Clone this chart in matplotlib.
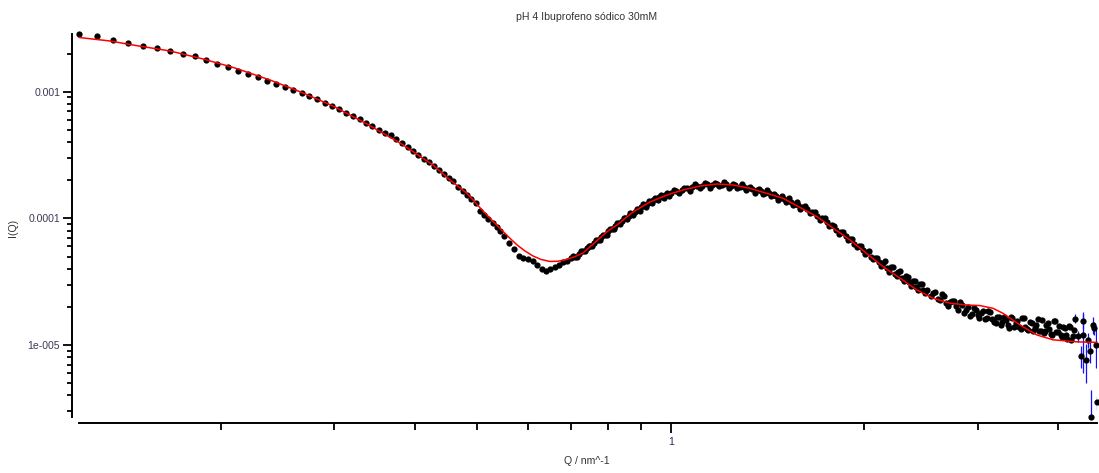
import matplotlib
matplotlib.use("Agg")
import matplotlib.pyplot as plt
import numpy as np
from matplotlib.ticker import LogLocator, NullFormatter, FixedLocator, FixedFormatter

# ---------------- data ----------------
q_low = [0.1203, 0.1280, 0.1357, 0.1434, 0.1511, 0.1588, 0.1665, 0.1742, 0.1819, 0.1896,
         0.1973, 0.2050, 0.2127, 0.2204, 0.2281, 0.2358, 0.2435, 0.2512, 0.2589, 0.2666,
         0.2743, 0.2820, 0.2897, 0.2974, 0.3051, 0.3128, 0.3205, 0.3282, 0.3359, 0.3436,
         0.3513, 0.3590, 0.3667, 0.3744, 0.3821, 0.3898, 0.3975, 0.4052, 0.4129, 0.4206,
         0.4283, 0.4360, 0.4437, 0.4514, 0.4591, 0.4668, 0.4745, 0.4822, 0.4899, 0.4976,
         0.5053, 0.5130, 0.5207, 0.5284, 0.5361]
i_low = [2.838e-3, 2.767e-3, 2.573e-3, 2.436e-3, 2.307e-3, 2.213e-3, 2.096e-3, 1.995e-3, 1.903e-3, 1.769e-3,
         1.654e-3, 1.558e-3, 1.465e-3, 1.379e-3, 1.299e-3, 1.208e-3, 1.150e-3, 1.083e-3, 1.026e-3, 9.80e-4,
         9.22e-4, 8.68e-4, 8.19e-4, 7.71e-4, 7.26e-4, 6.83e-4, 6.43e-4, 6.06e-4, 5.69e-4, 5.36e-4,
         4.99e-4, 4.75e-4, 4.53e-4, 4.21e-4, 3.92e-4, 3.68e-4, 3.42e-4, 3.18e-4, 2.96e-4, 2.79e-4,
         2.59e-4, 2.41e-4, 2.24e-4, 2.08e-4, 1.96e-4, 1.78e-4, 1.65e-4, 1.54e-4, 1.42e-4, 1.32e-4,
         1.15e-4, 1.07e-4, 9.84e-5, 9.15e-5, 8.51e-5]

q_dip = [0.543, 0.55, 0.56, 0.57, 0.58, 0.59, 0.60, 0.61, 0.62, 0.63, 0.64, 0.65, 0.66, 0.67,
         0.68, 0.69, 0.70, 0.71, 0.72, 0.73, 0.74, 0.75, 0.76, 0.77, 0.78, 0.79, 0.80, 0.81,
         0.82, 0.83, 0.84, 0.85, 0.86, 0.87, 0.88, 0.89, 0.90, 0.91, 0.92, 0.93, 0.94, 0.95,
         0.96, 0.97, 0.98, 0.99, 1.00]
i_dip = [7.96e-5, 7.26e-5, 6.45e-5, 5.73e-5, 5.05e-5, 4.83e-5, 4.74e-5, 4.57e-5, 4.25e-5, 3.95e-5,
         3.81e-5, 3.95e-5, 4.13e-5, 4.29e-5, 4.49e-5, 4.61e-5, 4.83e-5, 5.00e-5, 5.28e-5, 5.53e-5,
         5.79e-5, 6.06e-5, 6.39e-5, 6.69e-5, 7.07e-5, 7.46e-5, 7.88e-5, 8.25e-5, 8.71e-5, 9.12e-5,
         9.54e-5, 9.98e-5, 1.035e-4, 1.083e-4, 1.123e-4, 1.165e-4, 1.219e-4, 1.264e-4, 1.299e-4, 1.347e-4,
         1.384e-4, 1.422e-4, 1.462e-4, 1.489e-4, 1.516e-4, 1.544e-4, 1.573e-4]

q_dip2 = [0.705, 0.715, 0.725, 0.735, 0.745, 0.755, 0.765, 0.775, 0.785, 0.795,
          0.805, 0.815, 0.825, 0.835, 0.845, 0.855, 0.865, 0.875, 0.885, 0.895,
          0.905, 0.915, 0.925, 0.935, 0.945, 0.955, 0.965, 0.975, 0.985, 0.995]
i_dip2 = [5.05e-5, 5.00e-5, 5.55e-5, 5.51e-5, 6.09e-5, 6.05e-5, 6.72e-5, 6.69e-5, 7.46e-5, 7.46e-5,
          8.29e-5, 8.25e-5, 9.24e-5, 9.00e-5, 1.012e-4, 9.80e-5, 1.098e-4, 1.064e-4, 1.186e-4, 1.149e-4,
          1.287e-4, 1.235e-4, 1.372e-4, 1.316e-4, 1.455e-4, 1.391e-4, 1.530e-4, 1.448e-4, 1.587e-4, 1.502e-4]

q_peak = [1.02, 1.04, 1.06, 1.08, 1.10, 1.12, 1.14, 1.16, 1.18, 1.20, 1.22, 1.24, 1.26, 1.28, 1.30,
          1.32, 1.34, 1.36, 1.38, 1.40, 1.42, 1.44, 1.46, 1.48, 1.50, 1.52, 1.54, 1.56, 1.58, 1.60]
i_peak = [1.631e-4, 1.661e-4, 1.722e-4, 1.754e-4, 1.802e-4, 1.808e-4, 1.852e-4, 1.828e-4, 1.862e-4, 1.842e-4,
          1.852e-4, 1.808e-4, 1.818e-4, 1.776e-4, 1.769e-4, 1.722e-4, 1.713e-4, 1.661e-4, 1.646e-4, 1.593e-4,
          1.573e-4, 1.516e-4, 1.502e-4, 1.454e-4, 1.428e-4, 1.384e-4, 1.352e-4, 1.304e-4, 1.276e-4, 1.230e-4]

q_peak2 = [1.01, 1.03, 1.05, 1.07, 1.09, 1.11, 1.13, 1.15, 1.17, 1.19, 1.21, 1.23, 1.25, 1.27, 1.29,
           1.31, 1.33, 1.35, 1.37, 1.39, 1.41, 1.43, 1.45, 1.47, 1.49, 1.51, 1.53, 1.55, 1.57, 1.59]
i_peak2 = [1.661e-4, 1.587e-4, 1.722e-4, 1.646e-4, 1.877e-4, 1.741e-4, 1.898e-4, 1.742e-4, 1.913e-4, 1.786e-4,
           1.950e-4, 1.733e-4, 1.880e-4, 1.733e-4, 1.871e-4, 1.683e-4, 1.781e-4, 1.598e-4, 1.714e-4, 1.561e-4,
           1.672e-4, 1.489e-4, 1.565e-4, 1.400e-4, 1.494e-4, 1.356e-4, 1.445e-4, 1.281e-4, 1.338e-4, 1.187e-4]

q_decay = [1.63, 1.66, 1.69, 1.72, 1.75, 1.78, 1.81, 1.84, 1.87, 1.90, 1.93, 1.96, 1.99, 2.02, 2.05,
           2.08, 2.11, 2.14, 2.17, 2.20, 2.23, 2.26, 2.29, 2.32, 2.35, 2.38, 2.41, 2.44, 2.47, 2.50]
i_decay = [1.176e-4, 1.123e-4, 1.044e-4, 9.98e-5, 9.28e-5, 8.79e-5, 8.17e-5, 7.74e-5, 7.20e-5, 6.82e-5,
           6.30e-5, 6.00e-5, 5.63e-5, 5.38e-5, 5.00e-5, 4.83e-5, 4.49e-5, 4.45e-5, 4.06e-5, 4.10e-5,
           3.67e-5, 3.74e-5, 3.36e-5, 3.51e-5, 3.12e-5, 3.21e-5, 2.88e-5, 3.01e-5, 2.70e-5, 2.72e-5]

q_decay2 = [1.615, 1.645, 1.675, 1.705, 1.735, 1.765, 1.795, 1.825, 1.855, 1.885, 1.915, 1.945, 1.975, 2.005, 2.035,
            2.065, 2.095, 2.125, 2.155, 2.185, 2.215, 2.245, 2.275, 2.305, 2.335, 2.365, 2.395, 2.425, 2.455, 2.485]
i_decay2 = [1.247e-4, 1.108e-4, 1.123e-4, 9.67e-5, 1.016e-4, 8.71e-5, 8.78e-5, 7.53e-5, 7.74e-5, 6.76e-5,
            6.92e-5, 5.93e-5, 6.03e-5, 5.21e-5, 5.48e-5, 4.74e-5, 4.83e-5, 4.23e-5, 4.57e-5, 3.79e-5,
            4.17e-5, 3.50e-5, 3.81e-5, 3.19e-5, 3.43e-5, 2.90e-5, 3.21e-5, 2.74e-5, 3.06e-5, 2.57e-5]

q_tail = [2.54, 2.58, 2.62, 2.66, 2.70, 2.74, 2.78, 2.82, 2.86, 2.90, 2.94, 2.98, 3.02, 3.06, 3.10,
          3.14, 3.18, 3.22, 3.26, 3.30, 3.34, 3.38, 3.42, 3.46, 3.50, 3.54, 3.58, 3.62, 3.66, 3.70,
          3.74, 3.78, 3.82, 3.86, 3.90, 3.94, 3.98, 4.02, 4.06, 4.10, 4.14, 4.18, 4.22, 4.26, 4.30,
          4.34, 4.37, 4.38, 4.42, 4.46, 4.48, 4.50, 4.54, 4.56, 4.58, 4.60]
i_tail = [2.42e-5, 2.60e-5, 2.27e-5, 2.46e-5, 2.05e-5, 2.23e-5, 2.04e-5, 2.17e-5, 1.79e-5, 2.00e-5,
          1.76e-5, 1.88e-5, 1.64e-5, 1.86e-5, 1.64e-5, 1.83e-5, 1.52e-5, 1.67e-5, 1.44e-5, 1.67e-5,
          1.44e-5, 1.68e-5, 1.39e-5, 1.55e-5, 1.33e-5, 1.64e-5, 1.35e-5, 1.52e-5, 1.28e-5, 1.44e-5,
          1.28e-5, 1.58e-5, 1.28e-5, 1.49e-5, 1.22e-5, 1.56e-5, 1.27e-5, 1.42e-5, 1.15e-5, 1.37e-5,
          1.12e-5, 1.40e-5, 1.18e-5, 1.62e-5, 1.18e-5, 8.20e-6, 1.21e-5, 1.55e-5, 7.63e-6, 1.10e-5,
          8.98e-6, 2.73e-6, 1.44e-5, 1.37e-5, 1.00e-5, 3.54e-6]

q_tail2 = [2.56, 2.60, 2.64, 2.68, 2.72, 2.76, 2.80, 2.84, 2.88, 2.92, 2.96, 3.00, 3.04, 3.08, 3.12,
           3.16, 3.20, 3.24, 3.28, 3.32, 3.36, 3.40, 3.44, 3.48, 3.52, 3.56, 3.60, 3.64, 3.68, 3.72,
           3.76, 3.80, 3.84, 3.88, 3.92, 3.96, 4.00, 4.04, 4.08, 4.12, 4.16, 4.20, 4.24]
i_tail2 = [2.56e-5, 2.32e-5, 2.55e-5, 2.13e-5, 2.19e-5, 2.23e-5, 1.90e-5, 2.06e-5, 1.90e-5, 1.71e-5,
           1.97e-5, 1.72e-5, 1.78e-5, 1.62e-5, 1.87e-5, 1.62e-5, 1.50e-5, 1.68e-5, 1.51e-5, 1.59e-5,
           1.36e-5, 1.64e-5, 1.48e-5, 1.38e-5, 1.64e-5, 1.38e-5, 1.32e-5, 1.49e-5, 1.37e-5, 1.60e-5,
           1.30e-5, 1.25e-5, 1.45e-5, 1.34e-5, 1.19e-5, 1.55e-5, 1.26e-5, 1.20e-5, 1.40e-5, 1.20e-5,
           1.41e-5, 1.10e-5, 1.31e-5]

# error bars visible at the high-Q end
q_err = [4.26, 4.30, 4.34, 4.37, 4.38, 4.42, 4.46, 4.48, 4.50, 4.54, 4.56, 4.58, 4.60]
i_err_vals = [1.62e-5, 1.18e-5, 8.20e-6, 1.21e-5, 1.55e-5, 7.63e-6, 1.10e-5, 8.98e-6, 2.73e-6,
              1.44e-5, 1.37e-5, 1.00e-5, 3.54e-6]
err = [1.3e-6, 1.2e-6, 1.6e-6, 6.1e-6, 2.0e-6, 2.6e-6, 1.5e-6, 1.8e-6, 1.7e-6, 2.2e-6, 1.6e-6, 3.4e-6, 0.45e-6]

# model fit curve
q_fit = [0.1203, 0.1343, 0.1479, 0.1665, 0.1874, 0.2101, 0.2381, 0.2652, 0.2984, 0.3370,
         0.3793, 0.4269, 0.4537, 0.4822, 0.5106, 0.5427, 0.5585, 0.5768, 0.5934, 0.6106,
         0.6285, 0.6491, 0.6678, 0.6847, 0.7074, 0.7305, 0.7516, 0.7762, 0.7988, 0.8249,
         0.8737, 0.9286, 0.9868, 1.045, 1.111, 1.180, 1.250, 1.328, 1.495,
         1.689, 1.900, 2.139, 2.273, 2.416, 2.558, 2.719, 2.889, 3.027, 3.171,
         3.287, 3.493, 3.713, 3.932, 4.284, 4.603]
i_fit = [2.677e-3, 2.513e-3, 2.307e-3, 2.096e-3, 1.812e-3, 1.538e-3, 1.237e-3, 1.000e-3, 7.71e-4, 5.56e-4,
         3.94e-4, 2.64e-4, 2.010e-4, 1.573e-4, 1.144e-4, 8.32e-5, 7.20e-5, 6.17e-5, 5.53e-5, 5.05e-5,
         4.74e-5, 4.57e-5, 4.59e-5, 4.70e-5, 4.96e-5, 5.33e-5, 6.06e-5, 7.00e-5, 7.96e-5, 8.87e-5,
         1.123e-4, 1.347e-4, 1.530e-4, 1.676e-4, 1.802e-4, 1.868e-4, 1.835e-4, 1.728e-4, 1.441e-4,
         1.031e-4, 6.75e-5, 4.16e-5, 3.37e-5, 2.72e-5, 2.34e-5, 2.14e-5, 2.07e-5, 2.05e-5, 1.95e-5,
         1.78e-5, 1.44e-5, 1.20e-5, 1.10e-5, 1.06e-5, 1.05e-5]

x_tick_values = [1]
x_tick_labels = ["1"]
y_tick_values = [1e-5, 1e-4, 1e-3]
y_tick_labels = ["1e-005", "0.0001", "0.001"]

title = "pH 4 Ibuprofeno sódico 30mM"
x_label = "Q / nm^-1"
y_label = "I(Q)"

# ---------------- figure ----------------
plt.rcParams['font.family'] = ['Liberation Sans', 'DejaVu Sans']
W, H = 1099, 473
fig = plt.figure(figsize=(W / 100, H / 100), dpi=100)

left_px, right_px = 79.3, 1096.9
top_px, bottom_px = 34.3, 416.5
ax = fig.add_axes([left_px / W, (H - bottom_px) / H, (right_px - left_px) / W, (bottom_px - top_px) / H])
ax.set_xscale('log')
ax.set_yscale('log')

q_all = np.array(q_low + q_dip + q_dip2 + q_peak + q_peak2 + q_decay + q_decay2 + q_tail + q_tail2)
i_all = np.array(i_low + i_dip + i_dip2 + i_peak + i_peak2 + i_decay + i_decay2 + i_tail + i_tail2)

ax.errorbar(q_err, i_err_vals, yerr=err, fmt='none', ecolor='#1010ff', elinewidth=0.9, capsize=0, zorder=2)
ax.plot(q_all, i_all, 'o', color='black', markersize=4.5, markeredgewidth=0, clip_on=False, zorder=3)
ax.plot(q_fit, i_fit, '-', color='#ff0000', linewidth=1.1, clip_on=False, zorder=4)

ax.set_xlim(q_all.min(), q_all.max())
ax.set_ylim(i_all.min(), i_all.max())

for s in ['top', 'right']:
    ax.spines[s].set_visible(False)
ax.spines['left'].set_position(('outward', 5.3))
ax.spines['bottom'].set_position(('outward', 4.7))
for s in ['left', 'bottom']:
    ax.spines[s].set_linewidth(1.4)

ax.xaxis.set_major_locator(FixedLocator(x_tick_values))
ax.xaxis.set_major_formatter(FixedFormatter(x_tick_labels))
ax.xaxis.set_minor_locator(LogLocator(base=10, subs=(2, 3, 4, 5, 6, 7, 8, 9), numticks=20))
ax.xaxis.set_minor_formatter(NullFormatter())
ax.yaxis.set_major_locator(FixedLocator(y_tick_values))
ax.yaxis.set_major_formatter(FixedFormatter(y_tick_labels))
ax.yaxis.set_minor_locator(LogLocator(base=10, subs=(2, 3, 4, 5, 6, 7, 8, 9), numticks=20))
ax.yaxis.set_minor_formatter(NullFormatter())

ax.tick_params(axis='x', which='major', direction='out', length=7.2, width=1.3, labelsize=7.6,
               pad=2.5, labelcolor='#2a2560')
ax.tick_params(axis='x', which='minor', direction='out', length=4.8, width=1.3)
ax.tick_params(axis='y', which='major', direction='out', length=6.5, width=1.3, labelsize=7.6,
               pad=2.0, labelcolor='#3a3a55')
ax.tick_params(axis='y', which='minor', direction='out', length=3.6, width=1.3)

fig.text(586.5 / W, 1 - 17.5 / H, title, ha='center', va='center', fontsize=7.6, color='#333333')
fig.text(587 / W, 1 - 461 / H, x_label, ha='center', va='center', fontsize=7.6, color='#333333')
fig.text(13 / W, 1 - 228 / H, y_label, ha='center', va='center', rotation=90, fontsize=7.6, color='#333333')

fig.savefig('out.png', dpi=100)
